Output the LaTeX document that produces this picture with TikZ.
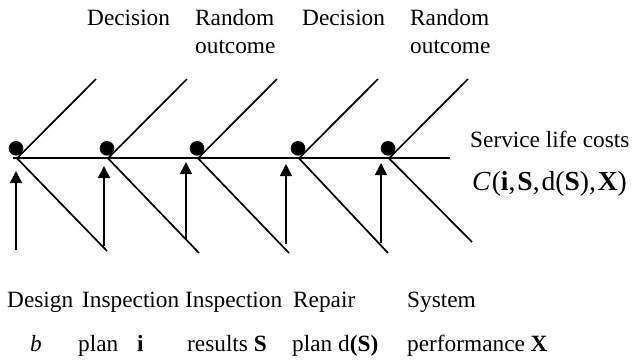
\documentclass[tikz,border=0pt]{standalone}
\usepackage{fontspec}
\setmainfont{Liberation Serif}
\usetikzlibrary{arrows.meta}
\begin{document}
\begin{tikzpicture}[x=1pt,y=-1pt,
  ln/.style={line width=1.7pt},
  arr/.style={line width=1.7pt,-{Triangle[width=12pt,length=12pt]}},
  dot/.style={circle,fill=black,inner sep=0pt,minimum size=14.6pt},
  lbl/.style={inner sep=0pt,anchor=base west,font=\fontsize{23.3}{28}\selectfont},
  top/.style={inner sep=0pt,anchor=base west,align=left,font=\fontsize{23.3}{28}\selectfont},
  ]
\useasboundingbox (0,0) rectangle (634,360);
% main time line
\coordinate (L) at (13,158.3);
\coordinate (R) at (450,158.3);
\draw[ln] (L) -- (R);
% decision / chance points
\foreach \i/\x in {1/16,2/107,3/197,4/298,5/388}{
  \node[dot] (n\i) at (\x,148.3) {};
  \coordinate (j\i) at (\x+1,158.3);
  \coordinate (u\i) at (\x+80,79);
}
\coordinate (d1) at (107,251);
\coordinate (d2) at (199,253);
\coordinate (d3) at (289,253);
\coordinate (d4) at (388,253);
\coordinate (d5) at (472,242);
\foreach \i in {1,...,5}{
  \draw[ln] (j\i) -- (u\i);
  \draw[ln] (j\i) -- (d\i);
}
% input arrows
\coordinate (a1) at (16,250);  \coordinate (t1) at (16,171);
\coordinate (a2) at (104,246); \coordinate (t2) at (104,166);
\coordinate (a3) at (186,240); \coordinate (t3) at (186,162);
\coordinate (a4) at (286,244); \coordinate (t4) at (286,164);
\coordinate (a5) at (381,243); \coordinate (t5) at (381,163);
\foreach \i in {1,...,5}{
  \draw[arr] (a\i) -- (t\i);
}
% top labels
\node[top] (dec1) at (87,25) {Decision};
\node[top] (ran1) at (195,53) {Random\\outcome};
\node[top] (dec2) at (302,25) {Decision};
\node[top] (ran2) at (410,53) {Random\\outcome};
% right labels
\node[lbl] (slc) at (470,147) {Service life costs};
\node[lbl,font=\fontsize{27.5}{32}\selectfont] (cost) at (472,190) {\textit{C}\kern1pt(\textbf{i},\kern2pt\textbf{S},\kern2pt d(\textbf{S}),\kern2pt\textbf{X})};
% bottom labels
\node[lbl] (des) at (7,307) {Design};
\node[lbl] (ins1) at (82,307) {Inspection};
\node[lbl] (ins2) at (185,307) {Inspection};
\node[lbl] (rep) at (293,307) {Repair};
\node[lbl] (sys) at (407,307) {System};
\node[lbl] (vb) at (30,351) {\textit{b}};
\node[lbl] (plan1) at (78,351) {plan};
\node[lbl] (vi) at (137,351) {\textbf{i}};
\node[lbl] (res) at (187,351) {results \textbf{S}};
\node[lbl] (plan2) at (292,351) {plan d\textbf{(S)}};
\node[lbl] (perf) at (407,351) {performance \textbf{X}};
\end{tikzpicture}
\end{document}
